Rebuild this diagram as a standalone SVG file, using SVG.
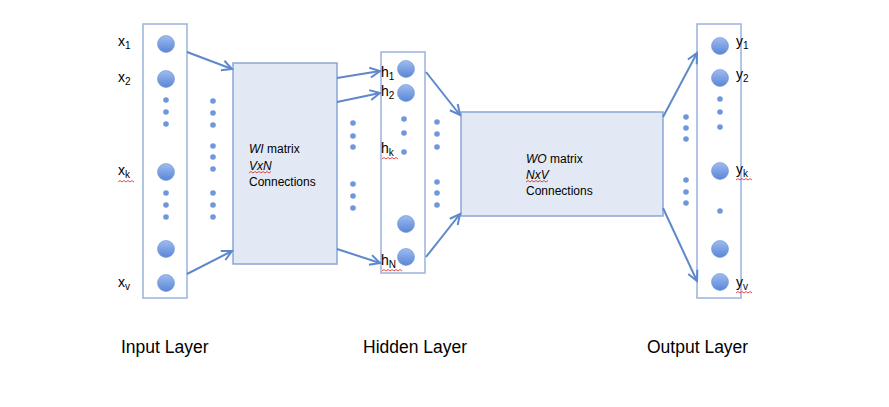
<svg xmlns="http://www.w3.org/2000/svg" width="889" height="407" viewBox="0 0 889 407">
<style>
.layer{fill:#ffffff;stroke:#9ab3dc;stroke-width:1.5}
.box{fill:#e3e9f4;stroke:#8aa6d6;stroke-width:1.5}
.n{fill:url(#g);stroke:#6e93d3;stroke-width:0.6}
.d{fill:#6f97dc}
.lbl{font-family:"Liberation Sans",Arial,sans-serif;font-size:14px;fill:#000}
.sub{font-size:10px}
.t{font-family:"Liberation Sans",Arial,sans-serif;font-size:12px;fill:#000}
.big{font-family:"Liberation Sans",Arial,sans-serif;font-size:17.5px;fill:#000}
.c{stroke:#5d88cc;stroke-width:2;fill:none}
.sq{stroke:#e0201a;stroke-width:0.8;fill:none}
</style>
<defs>
<linearGradient id="g" x1="0" y1="0" x2="0" y2="1">
<stop offset="0" stop-color="#9dbcf0"/>
<stop offset="1" stop-color="#5a86d6"/>
</linearGradient>
<marker id="a" markerUnits="userSpaceOnUse" markerWidth="14" markerHeight="14" refX="11" refY="6" orient="auto" viewBox="0 0 14 12">
<path d="M1,1 L11,6 L1,11" fill="none" stroke="#5d88cc" stroke-width="2"/>
</marker>
</defs>

<g id="input-layer">
<rect class="layer" x="143" y="24" width="44" height="274"/>
<circle class="n" cx="166" cy="44" r="8.5"/>
<circle class="n" cx="166" cy="79" r="8.5"/>
<circle class="n" cx="166" cy="172" r="8.5"/>
<circle class="n" cx="166" cy="249" r="8.5"/>
<circle class="n" cx="166" cy="283" r="8.5"/>
<circle class="d" cx="166" cy="100" r="2.8"/>
<circle class="d" cx="166" cy="112" r="2.8"/>
<circle class="d" cx="166" cy="124" r="2.8"/>
<circle class="d" cx="166" cy="193" r="2.8"/>
<circle class="d" cx="166" cy="205" r="2.8"/>
<circle class="d" cx="166" cy="217" r="2.8"/>
<text class="lbl" x="118" y="46">x<tspan class="sub" dy="3">1</tspan></text>
<text class="lbl" x="118" y="82">x<tspan class="sub" dy="3">2</tspan></text>
<text class="lbl" x="118" y="175">x<tspan class="sub" dy="3">k</tspan></text>
<text class="lbl" x="118" y="287">x<tspan class="sub" dy="3">v</tspan></text>
<path class="sq" d="M118,182 l2,-1.5 l2,1.5 l2,-1.5 l2,1.5 l2,-1.5 l2,1.5 l2,-1.5 l2,1.5"/>
</g>

<g id="wi-matrix">
<rect class="box" x="233" y="63" width="104" height="201"/>
<text class="t" x="249" y="153"><tspan font-style="italic">WI</tspan> matrix</text>
<text class="t" x="249" y="170" font-style="italic">VxN</text>
<text class="t" x="249" y="186">Connections</text>
<path class="sq" d="M249,173 l2,-1.5 l2,1.5 l2,-1.5 l2,1.5 l2,-1.5 l2,1.5 l2,-1.5 l2,1.5 l2,-1.5 l2,1.5 l2,-1.5"/>
</g>

<g id="hidden-layer">
<rect class="layer" x="381" y="52" width="44" height="221"/>
<circle class="n" cx="406" cy="69" r="8.5"/>
<circle class="n" cx="406" cy="93" r="8.5"/>
<circle class="n" cx="406" cy="224" r="8.5"/>
<circle class="n" cx="406" cy="257" r="8.5"/>
<circle class="d" cx="404" cy="119" r="2.8"/>
<circle class="d" cx="404" cy="133" r="2.8"/>
<circle class="d" cx="404" cy="152" r="2.8"/>
<text class="lbl" x="381" y="77">h<tspan class="sub" dy="3">1</tspan></text>
<text class="lbl" x="381" y="96">h<tspan class="sub" dy="3">2</tspan></text>
<text class="lbl" x="381" y="153">h<tspan class="sub" dy="3">k</tspan></text>
<text class="lbl" x="381" y="265">h<tspan class="sub" dy="3">N</tspan></text>
<path class="sq" d="M382,159 l2,-1.5 l2,1.5 l2,-1.5 l2,1.5 l2,-1.5 l2,1.5 l2,-1.5 l2,1.5"/>
<path class="sq" d="M382,271 l2,-1.5 l2,1.5 l2,-1.5 l2,1.5 l2,-1.5 l2,1.5 l2,-1.5 l2,1.5 l2,-1.5 l2,1.5"/>
</g>

<g id="wo-matrix">
<rect class="box" x="461" y="112" width="202" height="104"/>
<text class="t" x="526" y="163"><tspan font-style="italic">WO</tspan> matrix</text>
<text class="t" x="526" y="179" font-style="italic">NxV</text>
<text class="t" x="526" y="195">Connections</text>
<path class="sq" d="M526,182 l2,-1.5 l2,1.5 l2,-1.5 l2,1.5 l2,-1.5 l2,1.5 l2,-1.5 l2,1.5 l2,-1.5 l2,1.5 l2,-1.5"/>
</g>

<g id="output-layer">
<rect class="layer" x="697" y="24" width="44" height="274"/>
<circle class="n" cx="720" cy="46" r="8.5"/>
<circle class="n" cx="720" cy="78" r="8.5"/>
<circle class="n" cx="720" cy="171" r="8.5"/>
<circle class="n" cx="720" cy="249" r="8.5"/>
<circle class="n" cx="720" cy="282" r="8.5"/>
<circle class="d" cx="720" cy="99" r="2.8"/>
<circle class="d" cx="720" cy="112" r="2.8"/>
<circle class="d" cx="720" cy="127" r="2.8"/>
<circle class="d" cx="720" cy="211" r="2.8"/>
<text class="lbl" x="736" y="46">y<tspan class="sub" dy="3">1</tspan></text>
<text class="lbl" x="736" y="79">y<tspan class="sub" dy="3">2</tspan></text>
<text class="lbl" x="736" y="174">y<tspan class="sub" dy="3">k</tspan></text>
<text class="lbl" x="736" y="287">y<tspan class="sub" dy="3">v</tspan></text>
<path class="sq" d="M736,180 l2,-1.5 l2,1.5 l2,-1.5 l2,1.5 l2,-1.5 l2,1.5 l2,-1.5 l2,1.5"/>
<path class="sq" d="M736,293 l2,-1.5 l2,1.5 l2,-1.5 l2,1.5 l2,-1.5 l2,1.5 l2,-1.5 l2,1.5"/>
</g>

<g id="ellipses">
<circle class="d" cx="213" cy="101" r="2.8"/>
<circle class="d" cx="213" cy="113" r="2.8"/>
<circle class="d" cx="213" cy="125" r="2.8"/>
<circle class="d" cx="213" cy="146" r="2.8"/>
<circle class="d" cx="213" cy="157" r="2.8"/>
<circle class="d" cx="213" cy="169" r="2.8"/>
<circle class="d" cx="213" cy="193" r="2.8"/>
<circle class="d" cx="213" cy="205" r="2.8"/>
<circle class="d" cx="213" cy="217" r="2.8"/>
<circle class="d" cx="353" cy="123" r="2.8"/>
<circle class="d" cx="353" cy="136" r="2.8"/>
<circle class="d" cx="353" cy="147" r="2.8"/>
<circle class="d" cx="353" cy="184" r="2.8"/>
<circle class="d" cx="353" cy="196" r="2.8"/>
<circle class="d" cx="353" cy="208" r="2.8"/>
<circle class="d" cx="437" cy="122" r="2.8"/>
<circle class="d" cx="437" cy="134" r="2.8"/>
<circle class="d" cx="437" cy="147" r="2.8"/>
<circle class="d" cx="437" cy="182" r="2.8"/>
<circle class="d" cx="437" cy="193" r="2.8"/>
<circle class="d" cx="437" cy="205" r="2.8"/>
<circle class="d" cx="686" cy="117" r="2.8"/>
<circle class="d" cx="686" cy="128" r="2.8"/>
<circle class="d" cx="686" cy="139" r="2.8"/>
<circle class="d" cx="686" cy="180" r="2.8"/>
<circle class="d" cx="686" cy="192" r="2.8"/>
<circle class="d" cx="686" cy="203" r="2.8"/>
</g>

<g id="connectors">
<line class="c" x1="187" y1="52" x2="232" y2="69" marker-end="url(#a)"/>
<line class="c" x1="187" y1="274" x2="232" y2="251" marker-end="url(#a)"/>
<line class="c" x1="337" y1="78" x2="380" y2="71" marker-end="url(#a)"/>
<line class="c" x1="337" y1="102" x2="380" y2="93" marker-end="url(#a)"/>
<line class="c" x1="337" y1="249" x2="380" y2="263" marker-end="url(#a)"/>
<line class="c" x1="426" y1="72" x2="460" y2="115" marker-end="url(#a)"/>
<line class="c" x1="426" y1="257" x2="460" y2="214" marker-end="url(#a)"/>
<line class="c" x1="663" y1="117" x2="697" y2="53" marker-end="url(#a)"/>
<line class="c" x1="663" y1="208" x2="697" y2="281" marker-end="url(#a)"/>
</g>

<g id="captions">
<text class="big" x="121" y="353">Input Layer</text>
<text class="big" x="363" y="353">Hidden Layer</text>
<text class="big" x="647" y="353">Output Layer</text>
</g>
</svg>
